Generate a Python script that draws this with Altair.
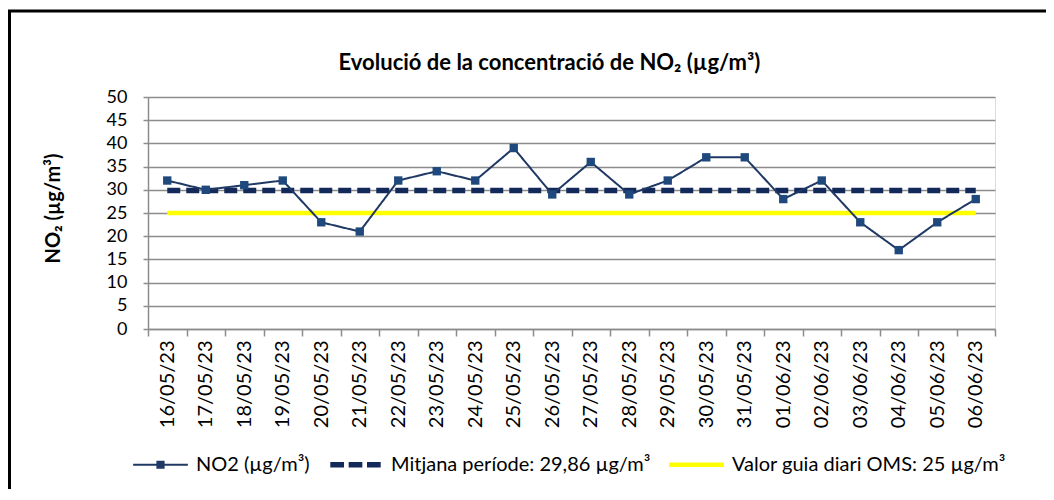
import altair as alt
import pandas as pd

dates = ["16/05/23", "17/05/23", "18/05/23", "19/05/23", "20/05/23", "21/05/23",
         "22/05/23", "23/05/23", "24/05/23", "25/05/23", "26/05/23", "27/05/23",
         "28/05/23", "29/05/23", "30/05/23", "31/05/23", "01/06/23", "02/06/23",
         "03/06/23", "04/06/23", "05/06/23", "06/06/23"]
no2_values = [32, 30, 31, 32, 23, 21, 32, 34, 32, 39, 29, 36,
              29, 32, 37, 37, 28, 32, 23, 17, 23, 28]
mean_value = 29.86
who_value = 25
series_names = ["NO2 (µg/m³)", "Mitjana període: 29,86 µg/m³", "Valor guia diari OMS: 25 µg/m³"]
y_ticks = [0, 5, 10, 15, 20, 25, 30, 35, 40, 45, 50]

df_no2 = pd.DataFrame({"date": dates, "value": no2_values, "series": series_names[0]})
df_mean = pd.DataFrame({"date": dates, "value": [mean_value] * len(dates), "series": series_names[1]})
df_who = pd.DataFrame({"date": dates, "value": [who_value] * len(dates), "series": series_names[2]})
df_keys = pd.DataFrame({"date": [dates[0]] * 3, "value": [who_value] * 3, "series": series_names})

FONT = "Lato"
GRID = "#8c8c8c"
COLORS = ["#1f3864", "#12295a", "#ffff00"]

# legend glyphs (unit square [-1, 1])
glyph_no2 = "M-1,-0.04H1V0.04H-1Z M-0.15,-0.15H0.15V0.15H-0.15Z"
glyph_mean = ("M-0.92,-0.1H-0.42V0.1H-0.92Z M-0.25,-0.1H0.25V0.1H-0.25Z "
              "M0.42,-0.1H0.92V0.1H0.42Z")
glyph_who = "M-1,-0.08H1V0.08H-1Z"

legend = alt.Legend(
    title=None, orient="none", legendX=-15, legendY=340, direction="horizontal",
    columns=3, symbolSize=3000, labelFontSize=20, labelFont=FONT,
    labelColor="black", columnPadding=18, labelOffset=8, labelLimit=400,
    symbolStrokeWidth=0.01, symbolStrokeColor="transparent",
)

x_enc = alt.X(
    "date:N", sort=dates,
    scale=alt.Scale(type="band", paddingInner=0, paddingOuter=0),
    axis=alt.Axis(title=None, labelAngle=270, tickBand="extent", grid=False,
                  domainColor=GRID, domainWidth=1.5, tickColor=GRID, tickWidth=1.5,
                  tickSize=7, labelPadding=4, labelFontSize=20, labelColor="black",
                  labelFont=FONT),
)
y_enc = alt.Y(
    "value:Q", scale=alt.Scale(domain=[0, 50], nice=False, zero=True),
    axis=alt.Axis(values=y_ticks, title="NO₂ (µg/m³)", titleFont=FONT, titleFontSize=20,
                  titleFontWeight="bold", titleColor="black", titleAngle=270,
                  titleX=-95, titleY=111, titleAlign="center", titleBaseline="middle",
                  labelFontSize=18, labelFont=FONT, labelColor="black", labelPadding=16,
                  gridColor=GRID, gridWidth=1.5, domainColor=GRID, domainWidth=1.5,
                  tickColor=GRID, tickSize=5, tickWidth=1.5),
)
color_scale = alt.Scale(domain=series_names, range=COLORS)

def line_layer(df, width, dash):
    return alt.Chart(df).mark_line(strokeWidth=width, strokeDash=dash).encode(
        x=x_enc, y=y_enc, color=alt.Color("series:N", scale=color_scale, legend=None),
    )

# invisible keys: only feed the legend (first layer so its legend settings win)
legend_keys = alt.Chart(df_keys).mark_point(filled=True, size=0, opacity=1,
                                            strokeWidth=0, strokeOpacity=0).encode(
    x=x_enc, y=y_enc,
    color=alt.Color("series:N", scale=color_scale, legend=legend),
    shape=alt.Shape("series:N", scale=alt.Scale(domain=series_names,
                    range=[glyph_no2, glyph_mean, glyph_who]), legend=legend),
)

who_line = line_layer(df_who, 4.5, [1, 0])
mean_line = line_layer(df_mean, 5.5, [13, 6])
no2_line = line_layer(df_no2, 2, [1, 0])
no2_points = alt.Chart(df_no2).mark_point(shape="square", filled=True, size=70,
                                          color="#1f497d", opacity=1).encode(x=x_enc, y=y_enc)

frame = alt.Data(values=[{"k": 1}])
top_border = alt.Chart(frame).mark_rule(color="black", strokeWidth=3).encode(
    x=alt.value(-140), x2=alt.value(898), y=alt.value(-86))
left_border = alt.Chart(frame).mark_rule(color="black", strokeWidth=3).encode(
    x=alt.value(-138.5), y=alt.value(-86), y2=alt.value(392))

chart = alt.layer(legend_keys, who_line, mean_line, no2_line, no2_points,
                  top_border, left_border).properties(
    width=847, height=232,
    autosize=alt.AutoSizeParams(type="none"),
    padding={"left": 140, "top": 89, "right": 51, "bottom": 160},
    title=alt.TitleParams(text="Evolució de la concentració de NO₂ (µg/m³)", font=FONT,
                          fontSize=22, fontWeight="bold", color="black", anchor="middle",
                          frame="group", baseline="alphabetic", dx=-22, dy=82, offset=0),
).configure_view(stroke=None).configure(background="white")

chart.save("out.html", embed_options={"renderer": "svg", "actions": False})
